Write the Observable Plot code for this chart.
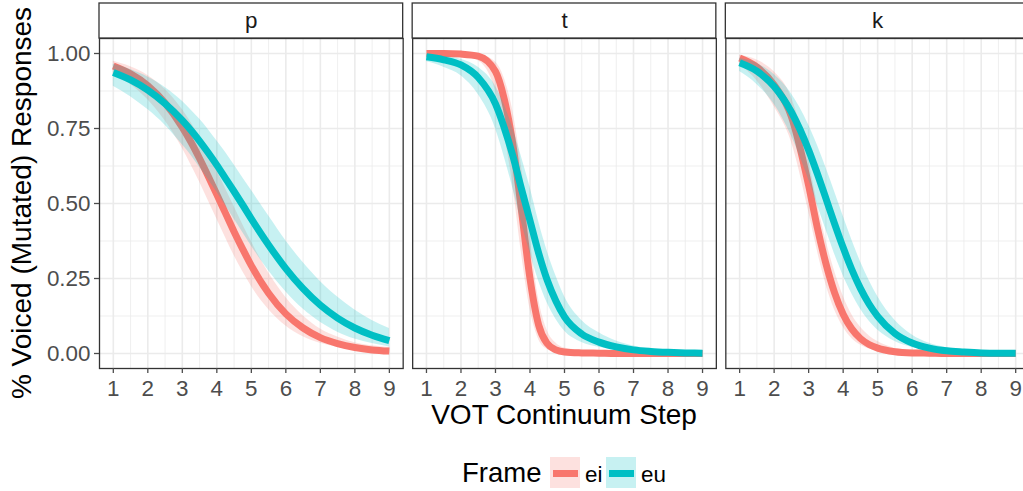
<!DOCTYPE html>
<html>
<head>
<meta charset="utf-8">
<script src="https://cdn.jsdelivr.net/npm/d3@7"></script>
<script src="https://cdn.jsdelivr.net/npm/@observablehq/plot@0.6"></script>
<style>
  html, body { margin: 0; padding: 0; background: #ffffff; }
  #wrap { position: relative; width: 1023px; height: 491px; overflow: hidden; background: #fff;
          font-family: "Liberation Sans", Arial, Helvetica, sans-serif; }
  #chart svg { max-width: none !important; display: block; }
  #legend { position: absolute; left: 0; top: 440px; width: 1023px; height: 51px; }
  #legend .item { position: absolute; }
  #legend .title { font-size: 27.5px; color: #000; line-height: 1; }
  #legend .lab { font-size: 22.4px; color: #000; line-height: 1; }
  #legend .key { position: absolute; width: 30px; height: 31px; }
  #legend .key .ln { position: absolute; left: 3px; width: 25px; top: 13px; height: 7px; }
</style>
</head>
<body>
<div id="wrap">
  <div id="chart"></div>
  <div id="legend"></div>
</div>
<script>
// ---------- data ----------
const consonants = ["p", "t", "k"];
const frames = ["ei", "eu"];
const frameColors = ["#F8766D", "#00BFC4"];
const steps = [1, 1.5, 2, 2.5, 3, 3.25, 3.5, 3.75, 4, 4.25, 4.5, 4.75, 5, 5.5, 6, 6.5, 7, 7.5, 8, 8.5, 9];
const xTicks = [1, 2, 3, 4, 5, 6, 7, 8, 9];
const xMinor = [1.5, 2.5, 3.5, 4.5, 5.5, 6.5, 7.5, 8.5];
const yTicks = [0, 0.25, 0.5, 0.75, 1];
const yMinor = [0.125, 0.375, 0.625, 0.875];

const p_ei_fit = [0.958, 0.932, 0.893, 0.835, 0.754, 0.705, 0.650, 0.591, 0.530, 0.468, 0.406, 0.348, 0.293, 0.201, 0.132, 0.085, 0.053, 0.033, 0.020, 0.012, 0.008];
const p_ei_lo  = [0.932, 0.897, 0.846, 0.776, 0.684, 0.629, 0.572, 0.510, 0.448, 0.387, 0.327, 0.273, 0.224, 0.147, 0.092, 0.056, 0.034, 0.020, 0.010, 0.005, 0.002];
const p_ei_hi  = [0.974, 0.956, 0.927, 0.881, 0.813, 0.770, 0.721, 0.668, 0.611, 0.550, 0.490, 0.430, 0.373, 0.269, 0.187, 0.126, 0.082, 0.055, 0.036, 0.026, 0.020];

const p_eu_fit = [0.937, 0.912, 0.878, 0.833, 0.777, 0.744, 0.708, 0.669, 0.628, 0.584, 0.540, 0.495, 0.449, 0.362, 0.283, 0.216, 0.161, 0.118, 0.085, 0.061, 0.043];
const p_eu_lo  = [0.891, 0.856, 0.813, 0.761, 0.696, 0.661, 0.621, 0.580, 0.538, 0.493, 0.448, 0.403, 0.358, 0.276, 0.206, 0.148, 0.104, 0.071, 0.048, 0.033, 0.022];
const p_eu_hi  = [0.964, 0.947, 0.922, 0.887, 0.841, 0.812, 0.782, 0.747, 0.709, 0.671, 0.629, 0.586, 0.544, 0.459, 0.376, 0.303, 0.240, 0.188, 0.145, 0.110, 0.083];

const t_ei_fit = [1.000, 1.000, 0.998, 0.991, 0.940, 0.850, 0.700, 0.480, 0.250, 0.095, 0.033, 0.012, 0.005, 0.002, 0.001, 0.000, 0.000, 0.000, 0.000, 0.000, 0.000];
const t_ei_lo  = [0.999, 0.998, 0.993, 0.976, 0.875, 0.737, 0.562, 0.336, 0.148, 0.047, 0.014, 0.004, 0.001, 0.000, 0.000, 0.000, 0.000, 0.000, 0.000, 0.000, 0.000];
const t_ei_hi  = [1.000, 1.000, 1.000, 0.997, 0.972, 0.919, 0.810, 0.627, 0.389, 0.182, 0.077, 0.035, 0.018, 0.010, 0.006, 0.003, 0.002, 0.001, 0.001, 0.000, 0.000];

const t_eu_fit = [0.989, 0.979, 0.962, 0.920, 0.832, 0.754, 0.660, 0.550, 0.443, 0.335, 0.244, 0.175, 0.122, 0.065, 0.038, 0.022, 0.012, 0.007, 0.004, 0.002, 0.001];
const t_eu_lo  = [0.973, 0.954, 0.926, 0.863, 0.750, 0.657, 0.552, 0.438, 0.336, 0.242, 0.168, 0.114, 0.075, 0.037, 0.021, 0.011, 0.006, 0.003, 0.002, 0.001, 0.000];
const t_eu_hi  = [0.996, 0.990, 0.981, 0.954, 0.891, 0.831, 0.752, 0.657, 0.555, 0.440, 0.341, 0.259, 0.190, 0.110, 0.069, 0.042, 0.025, 0.015, 0.009, 0.004, 0.002];

const k_ei_fit = [0.985, 0.955, 0.895, 0.790, 0.560, 0.420, 0.300, 0.203, 0.131, 0.082, 0.050, 0.030, 0.018, 0.006, 0.002, 0.001, 0.000, 0.000, 0.000, 0.000, 0.000];
const k_ei_lo  = [0.964, 0.909, 0.823, 0.705, 0.473, 0.343, 0.231, 0.146, 0.088, 0.050, 0.028, 0.015, 0.008, 0.002, 0.001, 0.000, 0.000, 0.000, 0.000, 0.000, 0.000];
const k_ei_hi  = [0.994, 0.978, 0.939, 0.854, 0.643, 0.502, 0.378, 0.275, 0.192, 0.130, 0.088, 0.059, 0.040, 0.017, 0.007, 0.003, 0.001, 0.001, 0.000, 0.000, 0.000];

const k_eu_fit = [0.969, 0.941, 0.890, 0.805, 0.678, 0.600, 0.517, 0.433, 0.353, 0.280, 0.217, 0.165, 0.124, 0.067, 0.035, 0.018, 0.009, 0.005, 0.002, 0.001, 0.001];
const k_eu_lo  = [0.940, 0.897, 0.831, 0.725, 0.580, 0.496, 0.413, 0.332, 0.260, 0.199, 0.148, 0.108, 0.078, 0.040, 0.020, 0.010, 0.005, 0.002, 0.001, 0.001, 0.000];
const k_eu_hi  = [0.984, 0.967, 0.930, 0.866, 0.762, 0.695, 0.620, 0.540, 0.458, 0.379, 0.307, 0.244, 0.190, 0.111, 0.062, 0.034, 0.019, 0.010, 0.005, 0.003, 0.002];

const xTitle = "VOT Continuum Step";
const yTitle = "% Voiced (Mutated) Responses";
const legendTitle = "Frame";

// ---------- build table ----------
const seriesTable = {
  p: {ei: [p_ei_fit, p_ei_lo, p_ei_hi], eu: [p_eu_fit, p_eu_lo, p_eu_hi]},
  t: {ei: [t_ei_fit, t_ei_lo, t_ei_hi], eu: [t_eu_fit, t_eu_lo, t_eu_hi]},
  k: {ei: [k_ei_fit, k_ei_lo, k_ei_hi], eu: [k_eu_fit, k_eu_lo, k_eu_hi]}
};
const rows = [];
for (const c of consonants) for (const f of frames) {
  const [fit, lo, hi] = seriesTable[c][f];
  steps.forEach((s, i) => rows.push({consonant: c, frame: f, step: s, fit: fit[i], lo: lo[i], hi: hi[i]}));
}

// ---------- layout ----------
const W = 1030, H = 440;
const mTop = 38, mBottom = 72, mLeft = 99, mRight = 1;
const xDomain = [0.6, 9.4];
const yDomain = [-0.05, 1.05];
const stripPx = 35;
const panelPx = H - mTop - mBottom;
const stripTop = yDomain[1] + (yDomain[1] - yDomain[0]) * stripPx / panelPx;
const font = '"Liberation Sans", Arial, Helvetica, sans-serif';
const ribbonOpacity = 0.22;

const marks = [
  Plot.ruleX(xMinor, {stroke: "#EBEBEB", strokeWidth: 0.8}),
  Plot.ruleY(yMinor, {stroke: "#EBEBEB", strokeWidth: 0.8}),
  Plot.ruleX(xTicks, {stroke: "#EBEBEB", strokeWidth: 1.6}),
  Plot.ruleY(yTicks, {stroke: "#EBEBEB", strokeWidth: 1.6})
];
frames.forEach((f, i) => {
  const d = rows.filter(r => r.frame === f);
  marks.push(Plot.areaY(d, {x: "step", y1: "lo", y2: "hi", fx: "consonant", fill: frameColors[i], fillOpacity: ribbonOpacity, curve: "monotone-x"}));
  marks.push(Plot.lineY(d, {x: "step", y: "fit", fx: "consonant", stroke: frameColors[i], strokeWidth: 7, strokeLinecap: "butt", curve: "monotone-x"}));
});
marks.push(
  Plot.frame({stroke: "#333333", strokeWidth: 1.3}),
  Plot.rect(consonants, {fx: d => d, x1: xDomain[0], x2: xDomain[1], y1: yDomain[1], y2: stripTop, fill: "#ffffff", stroke: "#333333", strokeWidth: 1.3}),
  Plot.text(consonants, {fx: d => d, frameAnchor: "top", lineAnchor: "middle", dy: -stripPx / 2, text: d => d, fontSize: 22.4, fill: "#1A1A1A"}),
  Plot.axisX(xTicks, {tickSize: 5, tickPadding: 7, fontSize: 22.4, color: "#4D4D4D", label: null}),
  Plot.axisY(yTicks, {tickSize: 5, tickPadding: 4, fontSize: 22.4, color: "#4D4D4D", label: null, tickFormat: d3.format(".2f")})
);

const chart = Plot.plot({
  width: W, height: H,
  marginTop: mTop, marginBottom: mBottom, marginLeft: mLeft, marginRight: mRight,
  facet: {marginTop: 0, marginRight: 0, marginBottom: 0, marginLeft: 0},
  fx: {domain: consonants, paddingInner: 0.0303, paddingOuter: 0, axis: null, label: null, round: false},
  x: {domain: xDomain},
  y: {domain: yDomain},
  style: {fontFamily: font, background: "#ffffff", overflow: "visible"},
  marks
});
chart.style.maxWidth = "none";
document.getElementById("chart").appendChild(chart);

const svg = d3.select(chart);
svg.selectAll('g[aria-label="x-axis tick"], g[aria-label="y-axis tick"]')
  .attr("stroke", "#333333").attr("stroke-width", 1.3);

svg.append("text")
  .attr("x", 564).attr("y", 424)
  .attr("text-anchor", "middle")
  .attr("font-size", 28).attr("fill", "#000").attr("font-family", font)
  .text(xTitle);
svg.append("text")
  .attr("transform", `translate(31,${mTop + panelPx / 2}) rotate(-90)`)
  .attr("text-anchor", "middle")
  .attr("font-size", 28).attr("fill", "#000").attr("font-family", font)
  .text(yTitle);

// ---------- legend ----------
const legend = d3.select("#legend");
const rowTop = 17;
legend.append("div").attr("class", "item title")
  .style("left", "462px").style("top", (rowTop + 2) + "px").text(legendTitle);
const keyLeft = [550, 606];
const labLeft = [585, 641];
frames.forEach((f, i) => {
  const c = d3.color(frameColors[i]);
  const key = legend.append("div").attr("class", "key")
    .style("left", keyLeft[i] + "px").style("top", rowTop + "px")
    .style("background", `rgba(${c.r},${c.g},${c.b},${ribbonOpacity})`);
  key.append("div").attr("class", "ln").style("background", frameColors[i]);
  legend.append("div").attr("class", "item lab")
    .style("left", labLeft[i] + "px").style("top", (rowTop + 7) + "px").text(f);
});
</script>
</body>
</html>
